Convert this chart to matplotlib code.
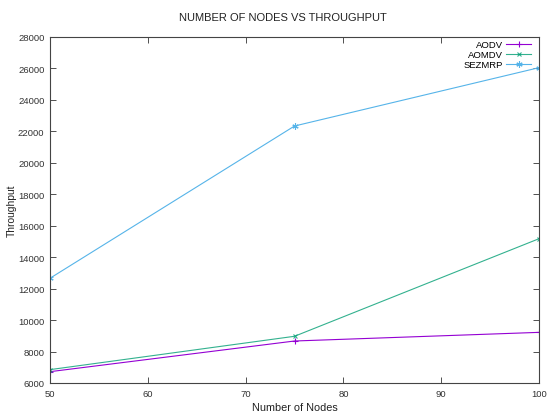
import matplotlib
matplotlib.use("Agg")
import matplotlib.pyplot as plt

plt.rcParams['font.family'] = ['Liberation Sans', 'DejaVu Sans']

# data
nodes = [50, 75, 100]
aodv = [6720, 8670, 9220]
aomdv = [6850, 8970, 15175]
sezmrp = [12660, 22340, 26050]

fig = plt.figure(figsize=(5.47, 4.14), dpi=100)
ax = fig.add_axes([50 / 547, 30 / 414, 489 / 547, 346 / 414])

ax.plot(nodes, aodv, color='#9400d3', lw=0.8, marker='+', ms=4.5, mew=0.8, label='AODV')
ax.plot(nodes, aomdv, color='#009e73', lw=0.8, marker='x', ms=3.5, mew=0.8, alpha=0.8, label='AOMDV')
ax.plot(nodes, sezmrp, color='#56b4e9', lw=0.8, marker=(6, 2, 0), ms=4.5, mew=0.8, label='SEZMRP')

ax.set_xlim(50, 100)
ax.set_ylim(6000, 28000)
ax.set_xticks(range(50, 101, 10))
ax.set_yticks(range(6000, 28001, 2000))
ax.tick_params(direction='in', top=True, right=True, labelsize=6.8, colors='#333333',
               length=4, width=0.6, pad=4)
for s in ax.spines.values():
    s.set_linewidth(0.8)
    s.set_color('#444444')

fig.text(283 / 547, 1 - 18 / 414, 'NUMBER OF NODES VS THROUGHPUT', fontsize=8,
         ha='center', va='center', color='#222222')
ax.set_xlabel('Number of Nodes', fontsize=7.8, color='#222222')
ax.xaxis.set_label_coords(0.5, (384 - 403) / 346)
ax.set_ylabel('Throughput', fontsize=7.4, color='#222222')
ax.yaxis.set_label_coords((17 - 50) / 489, 0.5)

ax.legend(loc='upper right', bbox_to_anchor=((531 - 50) / 489, (384 - 41) / 346),
          markerfirst=False, frameon=False, fontsize=6.8, handlelength=2.6,
          labelspacing=0.1, borderaxespad=0, borderpad=0, handletextpad=0.4)

fig.savefig('out.png', dpi=100)
